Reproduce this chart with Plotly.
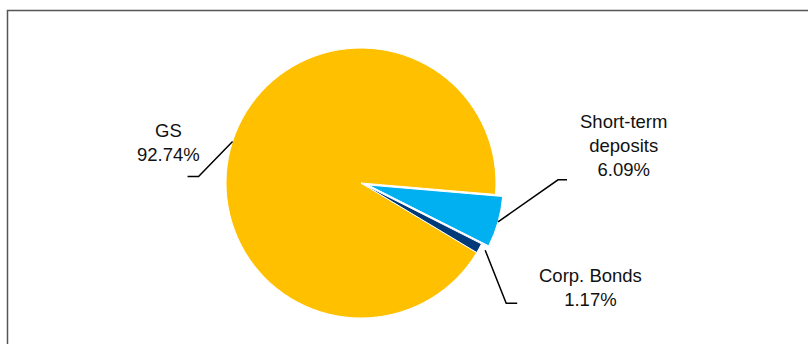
import math
import plotly.graph_objects as go

W, H = 808, 344

# ---- data ----
labels = ["GS", "Short-term deposits", "Corp. Bonds"]
label_text = ["GS<br>92.74%", "Short-term<br>deposits<br>6.09%", "Corp. Bonds<br>1.17%"]
values = [92.74, 6.09, 1.17]
colors = ["#FFC000", "#00B0F0", "#003A78"]
pulls = [0, 0.055, 0]

# ---- geometry (pixels) ----
cx, cy, R = 361, 183, 135
rotation = 121
half = R * (1 + max(pulls))

def px(x):
    return x / W

def py(y):
    return 1 - y / H

fig = go.Figure()
fig.add_trace(go.Pie(
    labels=labels, values=values, sort=False, direction="clockwise",
    rotation=rotation, pull=pulls, textinfo="none", hoverinfo="label+percent",
    marker=dict(colors=colors, line=dict(color="white", width=1)),
    domain=dict(x=[px(cx - half), px(cx + half)], y=[py(cy + half), py(cy - half)]),
    showlegend=False,
))

# leader lines: start at slice mid-angle on the rim, elbow + horizontal tail
# (elbow offsets / label positions are styling)
elbows = [(-34, 35, -11), (60, -42, 9), (21, 53, 11)]
label_pos = [(168, 142.5), (623, 145.5), (590, 287.5)]
total = sum(values)
angle = rotation
shapes = []
annotations = []
for i, v in enumerate(values):
    span = 360 * v / total
    mid = math.radians(angle + span / 2)
    angle += span
    ox = cx + pulls[i] * R * math.sin(mid)
    oy = cy - pulls[i] * R * math.cos(mid)
    sx = ox + R * math.sin(mid)
    sy = oy - R * math.cos(mid)
    if i == 2:
        sx += 6
        sy += 2
    dx, dy, tail = elbows[i]
    ex, ey = sx + dx, sy + dy
    path = f"M {px(sx)} {py(sy)} L {px(ex)} {py(ey)} L {px(ex + tail)} {py(ey)}"
    shapes.append(dict(type="path", xref="paper", yref="paper", path=path,
                       line=dict(color="black", width=1.5)))
    lx, ly = label_pos[i]
    annotations.append(dict(x=px(lx), y=py(ly), xref="paper", yref="paper",
                            text=label_text[i], showarrow=False,
                            xanchor="center", yanchor="middle", align="center",
                            font=dict(family="Liberation Sans, Arial", size=18.5, color="#111")))

# chart frame border (extends beyond the picture on right / bottom)
shapes.append(dict(type="rect", xref="paper", yref="paper",
                   x0=px(7.5), x1=1.2, y0=-0.2, y1=py(10.5),
                   line=dict(color="#555555", width=1.5), fillcolor="rgba(0,0,0,0)"))

fig.update_layout(
    width=W, height=H, margin=dict(l=0, r=0, t=0, b=0),
    paper_bgcolor="white", plot_bgcolor="white",
    shapes=shapes, annotations=annotations,
)
fig.write_html("out.html")
